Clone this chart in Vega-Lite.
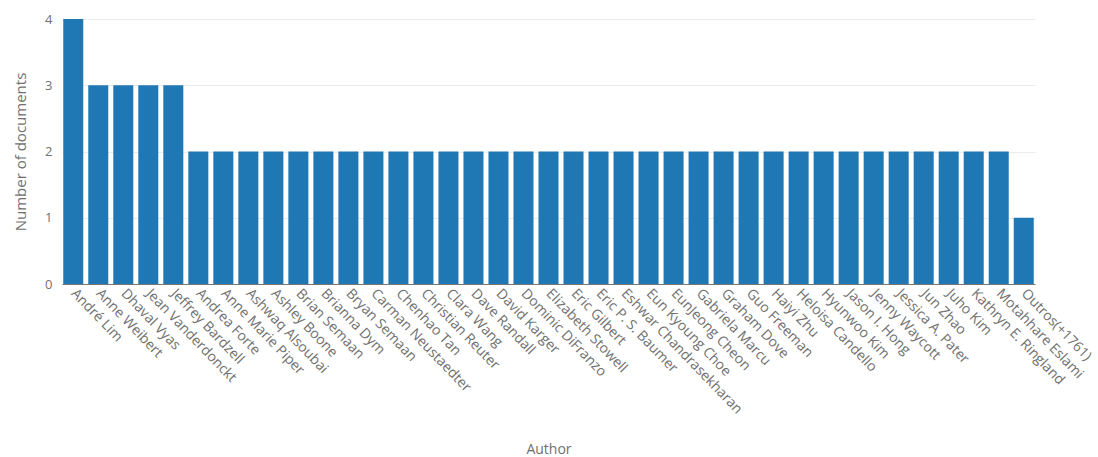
{
  "$schema": "https://vega.github.io/schema/vega-lite/v6.json",
  "autosize": "none",
  "width": 973,
  "height": 265,
  "padding": {"left": 62, "top": 19, "right": 63, "bottom": 173},
  "background": "white",
  "data": {
    "values": [
      {"author": "André Lim", "docs": 4},
      {"author": "Anne Weibert", "docs": 3},
      {"author": "Dhaval Vyas", "docs": 3},
      {"author": "Jean Vanderdonckt", "docs": 3},
      {"author": "Jeffrey Bardzell", "docs": 3},
      {"author": "Andrea Forte", "docs": 2},
      {"author": "Anne Marie Piper", "docs": 2},
      {"author": "Ashwaq Alsoubai", "docs": 2},
      {"author": "Ashley Boone", "docs": 2},
      {"author": "Brian Semaan", "docs": 2},
      {"author": "Brianna Dym", "docs": 2},
      {"author": "Bryan Semaan", "docs": 2},
      {"author": "Carman Neustaedter", "docs": 2},
      {"author": "Chenhao Tan", "docs": 2},
      {"author": "Christian Reuter", "docs": 2},
      {"author": "Clara Wang", "docs": 2},
      {"author": "Dave Randall", "docs": 2},
      {"author": "David Karger", "docs": 2},
      {"author": "Dominic DiFranzo", "docs": 2},
      {"author": "Elizabeth Stowell", "docs": 2},
      {"author": "Eric Gilbert", "docs": 2},
      {"author": "Eric P. S. Baumer", "docs": 2},
      {"author": "Eshwar Chandrasekharan", "docs": 2},
      {"author": "Eun Kyoung Choe", "docs": 2},
      {"author": "EunJeong Cheon", "docs": 2},
      {"author": "Gabriela Marcu", "docs": 2},
      {"author": "Graham Dove", "docs": 2},
      {"author": "Guo Freeman", "docs": 2},
      {"author": "Haiyi Zhu", "docs": 2},
      {"author": "Heloisa Candello", "docs": 2},
      {"author": "Hyunwoo Kim", "docs": 2},
      {"author": "Jason I. Hong", "docs": 2},
      {"author": "Jenny Waycott", "docs": 2},
      {"author": "Jessica A. Pater", "docs": 2},
      {"author": "Jun Zhao", "docs": 2},
      {"author": "Juho Kim", "docs": 2},
      {"author": "Kathryn E. Ringland", "docs": 2},
      {"author": "Motahhare Eslami", "docs": 2},
      {"author": "Outros(+1761)", "docs": 1}
    ]
  },
  "mark": {"type": "bar", "color": "#1f77b4"},
  "encoding": {
    "x": {
      "field": "author",
      "type": "nominal",
      "sort": null,
      "title": "Author",
      "scale": {"paddingInner": 0.2, "paddingOuter": 0.05},
      "axis": {
        "labelAngle": 46,
        "labelAlign": "left",
        "labelBaseline": "middle",
        "labelFont": "Open Sans",
        "labelFontSize": 14,
        "labelColor": "#707070",
        "labelPadding": 7,
        "ticks": false,
        "domainColor": "#777777",
        "titleFont": "Open Sans",
        "titleFontSize": 14,
        "titleFontWeight": "normal",
        "titleColor": "#707070",
        "titleY": 158,
        "titleBaseline": "top"
      }
    },
    "y": {
      "field": "docs",
      "type": "quantitative",
      "title": "Number of documents",
      "scale": {"domain": [0, 4]},
      "axis": {
        "values": [0, 1, 2, 3, 4],
        "format": "d",
        "domain": false,
        "ticks": false,
        "gridColor": "#ebebeb",
        "labelFont": "Open Sans",
        "labelFontSize": 13,
        "labelColor": "#707070",
        "labelPadding": 10,
        "titleFont": "Open Sans",
        "titleFontSize": 15,
        "titleFontWeight": "normal",
        "titleColor": "#707070",
        "titlePadding": 16
      }
    }
  },
  "config": {"view": {"stroke": null}}
}
